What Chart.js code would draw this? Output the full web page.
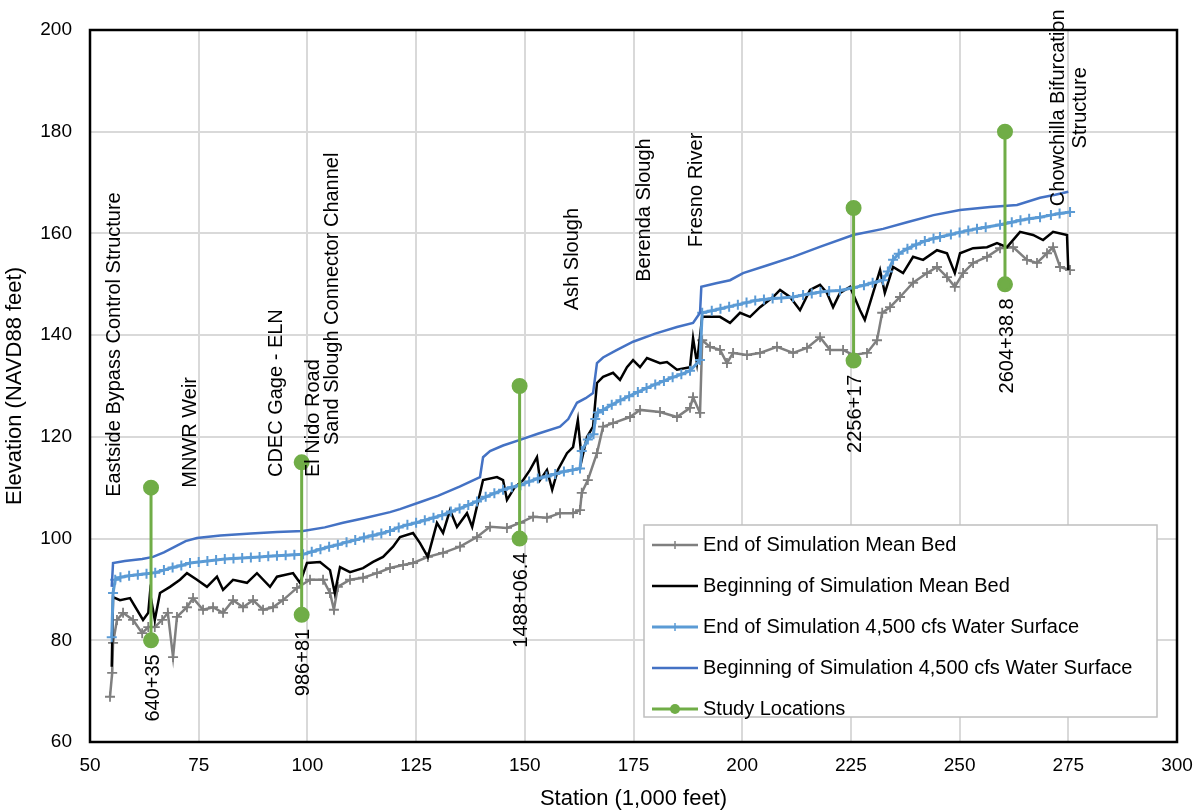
<!DOCTYPE html>
<html>
<head>
<meta charset="utf-8">
<script src="https://cdn.jsdelivr.net/npm/chart.js@4.4.0/dist/chart.umd.min.js"></script>
<style>
  html, body { margin: 0; padding: 0; background: #fff; }
  #wrap { width: 1201px; height: 812px; }
</style>
</head>
<body>
<div id="wrap"><canvas id="profileChart" width="1201" height="812"></canvas></div>
<script>
// End of simulation mean bed (grey, + markers)
const endBedStation = [54.6, 55.1, 55.3, 56.2, 57.6, 59.9, 62, 63.4, 64.9, 66.6, 67.9, 69.1, 70, 72.3, 73.7, 76, 78.3, 80.6, 82.9, 85.2,
  87.5, 89.8, 92.1, 94.4, 97.6, 100.6, 103.6, 105.2, 106.1, 107, 109.8, 112.8, 116, 119, 122, 124.3, 127.7, 131.2, 135.1, 139,
  142, 145.9, 148.9, 151.9, 155.1, 158.1, 161.1, 162.7, 163.1, 164.5, 166.6, 168, 170.3, 174.2, 176.5, 181.1, 185, 188, 188.7, 190.3,
  190.8, 192.6, 194.9, 196.5, 197.9, 201.1, 204.1, 208, 211.7, 214.9, 217.9, 220.2, 223.2, 225.5, 228.7, 231, 232.2, 234, 236.3, 239.3,
  242.5, 244.8, 247.1, 248.9, 250.8, 253.1, 256.3, 259.3, 262.3, 265.5, 267.8, 270.1, 271.5, 273.1, 275.4];
const endBedElev = [68.9, 73.6, 79.5, 84, 85.4, 84, 81.4, 82.6, 82.6, 84, 85.4, 76.7, 84.6, 86.5, 88.3, 86, 86.5, 85.4, 87.9, 86.5,
  87.9, 86, 86.5, 87.9, 90.3, 91.9, 91.9, 89.3, 86, 90.5, 91.9, 92.3, 93.2, 94.2, 94.8, 95.2, 96.4, 97.2, 98.4, 100.3,
  102.3, 102.1, 103.1, 104.3, 104.1, 105, 105, 105.6, 109, 111.5, 116.8, 122, 122.7, 123.9, 125.3, 124.9, 123.9, 125.7, 127.8, 124.7,
  139, 137.7, 137.1, 134.5, 136.5, 136.1, 136.5, 137.7, 136.5, 137.5, 139.6, 137.1, 137.1, 136.1, 136.5, 139, 144.4, 145.5, 147.5, 150.3,
  152.2, 153.4, 151.4, 149.5, 152.2, 154.2, 155.4, 157.1, 157.3, 154.8, 154.2, 156.1, 157.3, 153.4, 152.8];

// Beginning of simulation mean bed (black)
const begBedStation = [55.0, 55.3, 56.9, 59.2, 62.2, 63.4, 63.8, 64.9, 66.1, 68.4, 70.7, 72.3, 74.6, 76.9, 79.2, 80.6, 82.9, 86.1, 88.4, 91.4,
  93, 96.7, 98.3, 99.9, 102.9, 105.2, 106.3, 107.5, 109.8, 112.8, 115.1, 117.4, 119.7, 121.3, 124.3, 125.9, 127.7, 129.8, 131.2, 132.8,
  134.4, 136.7, 137.9, 140.4, 143.6, 145, 145.9, 147.7, 149.6, 151.2, 152.8, 153.5, 155.1, 156.3, 157.6, 159.7, 161.1, 162.2, 163.1, 164.3,
  165.7, 166.6, 168, 170.3, 171.9, 173.5, 174.9, 176.5, 178.1, 181.1, 182.7, 185, 188, 188.7, 189.6, 190.8, 191.9, 194.9, 197.2, 199.5,
  201.8, 204.1, 207.1, 208.7, 211, 213.3, 215.6, 217.9, 219.5, 220.9, 222.5, 224.8, 227.1, 228.2, 230.1, 231.7, 232.8, 234.7, 237, 239.3,
  241.6, 244.8, 247.1, 248.9, 250.1, 253.1, 256.3, 258.6, 260.9, 263.9, 266.9, 269.2, 271.5, 274.7, 275];
const begBedElev = [74.8, 88.5, 87.9, 88.3, 84, 85.4, 89.3, 84, 89.3, 90.5, 91.9, 93.2, 91.9, 90.5, 92.5, 89.9, 91.9, 91.3, 93.2, 90.5,
  92.5, 93.2, 91.3, 95.2, 95.4, 93.8, 89.3, 94.4, 93.4, 94.2, 95.4, 96.4, 98.4, 100.3, 101.1, 99.1, 96.4, 103.1, 101.1, 105.6,
  102.3, 105, 102.3, 111.5, 112.1, 111.5, 107.6, 110.1, 111.5, 113.5, 116, 111.5, 113.5, 109.6, 113.5, 116.8, 118, 123.3, 115.5, 120,
  122, 130.6, 131.8, 132.6, 131.2, 133.7, 135.1, 133.7, 135.5, 134.5, 134.7, 133.2, 133.7, 139.4, 134.5, 143.6, 143.6, 143.6, 142.4, 144.4,
  143.6, 145.5, 147.5, 148.9, 147.5, 144.9, 148.9, 149.9, 148.3, 145.5, 148.3, 149.5, 144.9, 143, 148.3, 152.8, 148.3, 153.4, 152.2, 155.4,
  154.8, 156.7, 156.1, 152.2, 156.1, 157.1, 157.3, 158.1, 157.3, 160.3, 159.7, 158.7, 160.3, 159.7, 152.8];

// End of simulation 4,500 cfs water surface (light blue, + markers)
const endWsStation = [55.0, 55.3, 55.8, 57, 59, 61, 63, 65, 67, 69, 71, 73, 75, 77, 79, 81, 83, 85, 87, 89,
  91, 93, 95, 97, 99, 101, 103, 105, 107, 109, 111, 113, 115, 117, 119, 121, 123, 125, 127, 129,
  131, 133, 135, 137, 139, 141, 143, 145, 147, 149, 151, 153, 155, 157, 159, 161, 162.7, 163.1, 164.5, 165.8,
  166.2, 166.8, 168, 170, 172, 174, 176, 178, 180, 182, 184, 186, 188, 190.3, 190.8, 193, 195, 197, 199, 201,
  203, 205, 207, 209, 211.7, 214, 216, 218, 220, 222.5, 225.5, 228, 230, 232.4, 233.5, 234.7, 236, 238, 240, 242,
  244, 245.5, 248, 250, 252, 254, 256, 259.3, 262, 264, 266, 268.5, 271, 273, 275.4];
const endWsElev = [80.6, 89.3, 91.9, 92.4, 92.7, 92.9, 93.1, 93.3, 93.8, 94.3, 94.7, 95.2, 95.4, 95.6, 95.8, 96, 96.1, 96.2, 96.3, 96.4,
  96.5, 96.6, 96.7, 96.8, 96.9, 97.4, 97.9, 98.4, 98.8, 99.3, 99.7, 100.2, 100.6, 101, 101.5, 102.2, 102.7, 103.1, 103.6, 104.1,
  104.6, 105.3, 105.9, 106.6, 107.3, 108.2, 108.9, 109.6, 110.1, 110.5, 111.2, 111.8, 112.2, 112.7, 113.2, 113.5, 113.8, 117.2, 119.5, 120.5,
  123.5, 124.8, 125.3, 126.3, 127.2, 128, 128.8, 129.6, 130.3, 131, 131.7, 132.3, 133, 135.1, 144.4, 144.8, 145.2, 145.6, 146, 146.4,
  146.8, 147, 147.2, 147.3, 147.5, 147.9, 148.2, 148.5, 148.7, 148.8, 149.3, 149.8, 150.3, 150.8, 152.5, 154.8, 156, 157, 157.8, 158.5,
  159, 159.3, 159.8, 160.2, 160.6, 160.9, 161.2, 161.7, 162.2, 162.6, 162.9, 163.2, 163.6, 163.9, 164.2];

// Beginning of simulation 4,500 cfs water surface (dark blue)
const begWsStation = [55.0, 55.3, 58, 62, 64.5, 67, 70, 72, 74.6, 80, 87, 93, 99, 104, 108.2, 113, 119, 121.3, 126, 130,
  135, 139.7, 140.4, 142, 145, 148.9, 153, 158.1, 160, 162, 164, 165.7, 166.6, 168, 171, 174.9, 180, 185, 188.7, 190.3,
  190.6, 194, 197.2, 200.2, 206, 211.7, 218, 225.5, 232.4, 237.9, 244, 250.1, 257, 263.2, 268.5, 272, 275];
const begWsElev = [90.5, 95.2, 95.6, 96, 96.4, 97.3, 98.6, 99.5, 100.1, 100.6, 101, 101.3, 101.5, 102.2, 103.1, 104, 105.2, 105.8, 107.2, 108.4,
  110.2, 112.1, 116, 117.2, 118.3, 119.4, 120.6, 122, 123.5, 126.7, 127.6, 128.6, 134.5, 135.6, 137, 138.7, 140.3, 141.6, 142.4, 144.4,
  149.5, 150.2, 150.8, 152.2, 153.8, 155.4, 157.4, 159.7, 160.9, 162.2, 163.6, 164.6, 165.2, 165.6, 167, 167.6, 168.2];

// Study locations (station in 1,000 ft, top and bottom of the marker bar)
const studyStation = [64.035, 98.681, 148.806, 225.617, 260.4388];
const studyTop = [110, 115, 130, 165, 180];
const studyBottom = [80, 85, 100, 135, 150];
const studyLabels = ['640+35', '986+81', '1488+06.4', '2256+17', '2604+38.8'];

// Landmark labels along the channel
const landmarkNames = ['Eastside Bypass Control Structure', 'MNWR Weir', 'CDEC Gage - ELN', 'El Nido Road',
  'Sand Slough Connector Channel', 'Ash Slough', 'Berenda Slough', 'Fresno River', 'Chowchilla Bifurcation\nStructure'];
const landmarkStation = [55.7, 73, 93, 101.5, 105.7, 161, 177.6, 189.6, 275.2];
const landmarkBase = [108.2, 110, 112.1, 112.1, 118.4, 144.9, 150.5, 157.3, 184.7];

const xTicks = [50, 75, 100, 125, 150, 175, 200, 225, 250, 275, 300];
const yTicks = [60, 80, 100, 120, 140, 160, 180, 200];

const FONT = "'Liberation Sans', Arial, sans-serif";

function pts(xs, ys) {
  return xs.map((x, i) => ({ x: x, y: ys[i] }));
}

// study bars as one dataset, broken with nulls
const studyPoints = [];
studyStation.forEach((s, i) => {
  studyPoints.push({ x: s, y: studyTop[i] });
  studyPoints.push({ x: s, y: studyBottom[i] });
  studyPoints.push({ x: s, y: null });
});

const overlay = {
  id: 'overlay',
  afterDatasetsDraw(chart) {
    const ctx = chart.ctx;
    const a = chart.chartArea;
    const xs = chart.scales.x, ys = chart.scales.y;

    // plot border
    ctx.save();
    ctx.strokeStyle = '#000';
    ctx.lineWidth = 2.5;
    ctx.strokeRect(a.left, a.top, a.right - a.left, a.bottom - a.top);
    ctx.restore();

    // landmark labels (rotated)
    ctx.save();
    ctx.fillStyle = '#000';
    ctx.font = '20px ' + FONT;
    ctx.textBaseline = 'middle';
    landmarkNames.forEach((name, i) => {
      const lines = name.split('\n');
      const px = xs.getPixelForValue(landmarkStation[i]);
      const py = ys.getPixelForValue(landmarkBase[i]);
      ctx.save();
      ctx.translate(px, py);
      ctx.rotate(-Math.PI / 2);
      ctx.textAlign = lines.length > 1 ? 'center' : 'left';
      lines.forEach((ln, j) => {
        ctx.fillText(ln, 0, (j - (lines.length - 1) / 2) * 22);
      });
      ctx.restore();
    });

    // study location labels under the lower dot
    studyLabels.forEach((lab, i) => {
      const px = xs.getPixelForValue(studyStation[i]) + 2;
      const py = ys.getPixelForValue(studyBottom[i]) + 14;
      ctx.save();
      ctx.translate(px, py);
      ctx.rotate(-Math.PI / 2);
      ctx.textAlign = 'right';
      ctx.fillText(lab, 0, 0);
      ctx.restore();
    });
    ctx.restore();
  },
  afterDraw(chart) {
    const ctx = chart.ctx;
    const box = { x: 644, y: 525, w: 513, h: 192 };
    ctx.save();
    ctx.fillStyle = '#fff';
    ctx.fillRect(box.x, box.y, box.w, box.h);
    ctx.strokeStyle = '#bfbfbf';
    ctx.lineWidth = 1.5;
    ctx.strokeRect(box.x, box.y, box.w, box.h);

    ctx.font = '20px ' + FONT;
    ctx.textBaseline = 'middle';
    ctx.textAlign = 'left';
    chart.data.datasets.forEach((ds, i) => {
      const cy = box.y + 20 + i * 41;
      const x0 = box.x + 8, x1 = box.x + 54, xm = (x0 + x1) / 2;
      ctx.strokeStyle = ds.borderColor;
      ctx.lineWidth = ds.borderWidth;
      ctx.beginPath();
      ctx.moveTo(x0, cy);
      ctx.lineTo(x1, cy);
      ctx.stroke();
      if (ds.pointStyle === 'cross' && ds.pointRadius > 0) {
        ctx.lineWidth = 1.5;
        ctx.beginPath();
        ctx.moveTo(xm, cy - 4);
        ctx.lineTo(xm, cy + 4);
        ctx.stroke();
      } else if (ds.pointStyle === 'circle' && ds.pointRadius > 0) {
        ctx.fillStyle = ds.pointBackgroundColor;
        ctx.beginPath();
        ctx.arc(xm, cy, 5, 0, Math.PI * 2);
        ctx.fill();
      }
      ctx.fillStyle = '#000';
      ctx.fillText(ds.label, x1 + 5, cy);
    });
    ctx.restore();
  }
};

const ctx = document.getElementById('profileChart').getContext('2d');
new Chart(ctx, {
  type: 'line',
  data: {
    datasets: [
      {
        label: 'End of Simulation Mean Bed',
        data: pts(endBedStation, endBedElev),
        borderColor: '#7f7f7f',
        backgroundColor: '#7f7f7f',
        borderWidth: 2.5,
        pointStyle: 'cross',
        pointRadius: 5,
        pointBorderWidth: 1.8,
        pointBorderColor: '#7f7f7f',
        tension: 0,
        order: 4
      },
      {
        label: 'Beginning of Simulation Mean Bed',
        data: pts(begBedStation, begBedElev),
        borderColor: '#000000',
        backgroundColor: '#000000',
        borderWidth: 2.5,
        pointRadius: 0,
        tension: 0,
        order: 3
      },
      {
        label: 'End of Simulation 4,500 cfs Water Surface',
        data: pts(endWsStation, endWsElev),
        borderColor: '#5b9bd5',
        backgroundColor: '#5b9bd5',
        borderWidth: 3,
        pointStyle: 'cross',
        pointRadius: 5,
        pointBorderWidth: 2,
        pointBorderColor: '#5b9bd5',
        tension: 0,
        order: 2
      },
      {
        label: 'Beginning of Simulation 4,500 cfs Water Surface',
        data: pts(begWsStation, begWsElev),
        borderColor: '#4472c4',
        backgroundColor: '#4472c4',
        borderWidth: 2.5,
        pointRadius: 0,
        tension: 0,
        order: 1
      },
      {
        label: 'Study Locations',
        data: studyPoints,
        borderColor: '#70ad47',
        backgroundColor: '#70ad47',
        pointBackgroundColor: '#70ad47',
        pointBorderColor: '#70ad47',
        borderWidth: 3,
        pointStyle: 'circle',
        pointRadius: 6.5,
        spanGaps: false,
        tension: 0,
        order: 0
      }
    ]
  },
  options: {
    responsive: false,
    animation: false,
    layout: { padding: { left: 0, right: 24, top: 30, bottom: 0 } },
    plugins: {
      legend: { display: false },
      tooltip: { enabled: false }
    },
    scales: {
      x: {
        type: 'linear',
        min: 50,
        max: 300,
        afterBuildTicks: (scale) => { scale.ticks = xTicks.map(v => ({ value: v })); },
        afterFit: (scale) => { scale.height = 70; scale.paddingRight = 0; scale.paddingLeft = 0; },
        grid: { color: '#d9d9d9', lineWidth: 2, drawTicks: false },
        border: { display: false },
        ticks: { color: '#000', font: { family: FONT, size: 19 }, padding: 12 },
        title: { display: true, text: 'Station (1,000 feet)', color: '#000', font: { family: FONT, size: 22 }, padding: { top: 0, bottom: 0 } }
      },
      y: {
        type: 'linear',
        min: 60,
        max: 200,
        afterBuildTicks: (scale) => { scale.ticks = yTicks.map(v => ({ value: v })); },
        afterFit: (scale) => { scale.width = 90; },
        grid: { color: '#d9d9d9', lineWidth: 2, drawTicks: false },
        border: { display: false },
        ticks: { color: '#000', font: { family: FONT, size: 19 }, padding: 18 },
        title: { display: true, text: 'Elevation (NAVD88 feet)', color: '#000', font: { family: FONT, size: 22 }, padding: { top: 2, bottom: 0 } }
      }
    }
  },
  plugins: [overlay]
});
</script>
</body>
</html>
